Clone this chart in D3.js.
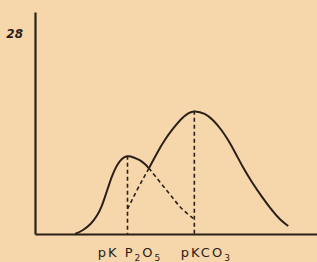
<!DOCTYPE html>
<html>
<head>
<meta charset="utf-8">
<script src="https://cdn.jsdelivr.net/npm/d3@7"></script>
<style>
  body { margin: 0; background: #f6d7ab; }
  svg { display: block; }
</style>
</head>
<body>
<div class="canvas"></div>
<script>
// Curve of the first component (P2O5)
const p2o5X = [1.42, 1.70, 1.99, 2.20, 2.36, 2.48, 2.61, 2.73, 2.87, 3.01, 3.16, 3.31, 3.49, 3.72, 3.90, 4.04, 4.43, 4.85, 5.20, 5.61];
const p2o5Y = [0, 0.49, 1.40, 2.51, 3.77, 5.17, 6.70, 8.10, 9.36, 10.26, 10.75, 10.93, 10.71, 10.33, 9.78, 9.17, 7.26, 5.21, 3.45, 2.19];

// Curve of the second component (CO3)
const co3X = [3.28, 3.65, 4.04, 4.32, 4.61, 4.90, 5.20, 5.44, 5.65, 6.03, 6.32, 6.62, 6.85, 7.09, 7.39, 7.68, 8.04, 8.39, 8.69, 8.98];
const co3Y = [3.49, 6.42, 9.17, 11.27, 13.22, 14.76, 16.16, 16.94, 17.22, 16.86, 15.92, 14.52, 13.13, 11.45, 9.17, 7.30, 5.21, 3.35, 1.96, 1.12];

// Where the two curves cross
const crossX = 4.04;

// pK positions, peak heights and their labels
const pkValues = [3.28, 5.65];
const pkPeaks = [10.93, 17.22];
const pkNames = [['pK P', '2', 'O', '5'], ['pKCO', '3']];

// y tick shown on the axis
const yTicks = [28];

// Variables for d3
const svgWidth = 317;
const svgHeight = 262;
const margins = {left: 35, top: 12, right: 0, bottom: 28};
const ink = '#2a2019';

let svg = d3.select('.canvas').append('svg')
  .attr('width', svgWidth)
  .attr('height', svgHeight);

// Scales
const xScale = d3.scaleLinear().domain([0, 10])
  .range([margins.left, svgWidth - margins.right]);
const yScale = d3.scaleLinear().domain([0, 31])
  .range([svgHeight - margins.bottom, margins.top]);

// Build point lists
const p2o5 = p2o5X.map((x, i) => ({x: x, y: p2o5Y[i]}));
const co3 = co3X.map((x, i) => ({x: x, y: co3Y[i]}));

// Smooth line through the traced points
const line = d3.line()
  .x(d => xScale(d.x))
  .y(d => yScale(d.y))
  .curve(d3.curveBasis);

// Solid parts: each curve where it is on top
const solidParts = [
  p2o5.filter(d => d.x <= crossX),
  co3.filter(d => d.x >= crossX)
];
// Dashed parts: each curve where it is hidden
const dashedParts = [
  p2o5.filter(d => d.x >= crossX),
  co3.filter(d => d.x <= crossX)
];

svg.selectAll('.solid')
  .data(solidParts)
  .enter()
  .append('path')
  .attr('class', 'solid')
  .attr('d', line)
  .attr('fill', 'none')
  .attr('stroke', ink)
  .attr('stroke-width', 2);

svg.selectAll('.dashed')
  .data(dashedParts)
  .enter()
  .append('path')
  .attr('class', 'dashed')
  .attr('d', line)
  .attr('fill', 'none')
  .attr('stroke', ink)
  .attr('stroke-width', 1.6)
  .attr('stroke-dasharray', '4,3');

// Vertical dashed lines from each peak down to the axis
svg.selectAll('.drop')
  .data(pkValues)
  .enter()
  .append('line')
  .attr('class', 'drop')
  .attr('x1', d => xScale(d))
  .attr('x2', d => xScale(d))
  .attr('y1', (d, i) => yScale(pkPeaks[i]))
  .attr('y2', yScale(0))
  .attr('stroke', ink)
  .attr('stroke-width', 1.6)
  .attr('stroke-dasharray', '4,3');

// Axes
const xAxis = d3.axisBottom(xScale).tickValues([]).tickSize(0);
const yAxis = d3.axisLeft(yScale).tickValues(yTicks).tickSize(0).tickPadding(12);

svg.append('g')
  .attr('transform', 'translate(0,' + yScale(0) + ')')
  .call(xAxis)
  .select('.domain')
  .attr('stroke', ink)
  .attr('stroke-width', 2.2);

svg.append('g')
  .attr('transform', 'translate(' + xScale(0) + ',0)')
  .call(yAxis)
  .call(g => g.select('.domain').attr('stroke', ink).attr('stroke-width', 2.2))
  .selectAll('text')
  .attr('fill', ink)
  .style('font-family', 'DejaVu Sans')
  .style('font-size', '12px')
  .style('font-style', 'italic')
  .style('font-weight', 'bold');

// pK labels under the axis with subscripts
const labelOffsets = [2.5, 12];
const labels = svg.selectAll('.pk')
  .data(pkNames)
  .enter()
  .append('text')
  .attr('class', 'pk')
  .attr('x', (d, i) => xScale(pkValues[i]) + labelOffsets[i])
  .attr('y', 257)
  .attr('text-anchor', 'middle')
  .attr('fill', ink)
  .style('font-family', 'DejaVu Sans')
  .style('font-size', '13px')
  .style('letter-spacing', '2px');

labels.each(function(parts) {
  const t = d3.select(this);
  parts.forEach((p, j) => {
    t.append('tspan')
      .attr('dy', j === 0 ? 0 : (j % 2 === 1 ? 4 : -4))
      .style('font-size', j % 2 === 1 ? '9px' : '13px')
      .text(p);
  });
});
</script>
</body>
</html>
